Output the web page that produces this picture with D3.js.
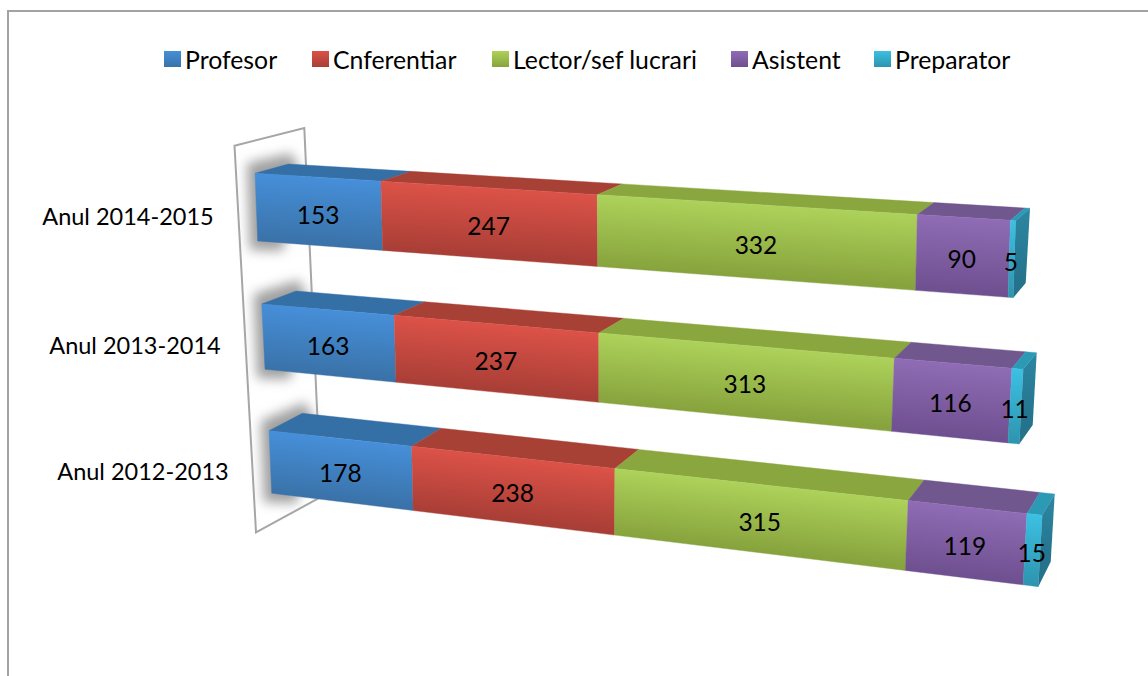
<!DOCTYPE html>
<html><head><meta charset="utf-8">
<script src="https://cdnjs.cloudflare.com/ajax/libs/d3/7.8.5/d3.min.js"></script>
<style>html,body{margin:0;padding:0;background:#fff}svg{display:block}text{font-family:Lato,"Open Sans",sans-serif;fill:#000}</style>
</head><body><svg id="c" width="1148" height="676"></svg>
<script>
// --- data ---
const categories = ["Anul 2014-2015","Anul 2013-2014","Anul 2012-2013"];
const seriesNames = ["Profesor","Cnferentiar","Lector/sef lucrari","Asistent","Preparator"];
const profesor   = [153,163,178];
const conferentiar = [247,237,238];
const lector     = [332,313,315];
const asistent   = [90,116,119];
const preparator = [5,11,15];
const seriesValues = [profesor,conferentiar,lector,asistent,preparator];

// --- layout & style (not data) ---
const frontColors = [["#468FD9","#3A72A8"],["#DC5248","#A83E36"],["#ADD25A","#87A33D"],["#8F6CB5","#6E4F8F"],["#3CC0E2","#2D94AF"]];
const topColors = ["#346FA6","#A74035","#8AA63F","#70578E","#2C9AB5"];
const sideColors = ["#2C87A3","#25728C"];
// corners: front TL, TR, BR, BL; back TL, TR, BR
const frames = [
 {ftl:[255,173.3],ftr:[1015.7,220.7],fbr:[1013.3,297.7],fbl:[257.7,241],btl:[288.3,164],btr:[1030,208.3],bbr:[1025.7,283],label:[128,219]},
 {ftl:[261.7,304],ftr:[1023.3,369.3],fbr:[1019.3,444],fbl:[265,369.3],btl:[296,291],btr:[1036.7,352.7],bbr:[1032.7,425],label:[135,348]},
 {ftl:[269,430.7],ftr:[1042.3,515.3],fbr:[1038.3,586.7],fbl:[271.7,493.3],btl:[302.3,413.3],btr:[1054.7,494],bbr:[1050.7,561.7],label:[143,474]}
];
const wall = [[234.5,145.7],[304.3,128],[321,497],[256,532.3]];
const legendX = [164,312,492,731,874];
const foreshorten = 1.145;

const svg = d3.select("#c");
const defs = svg.append("defs");
defs.append("filter").attr("id","blur").attr("x","-50%").attr("y","-50%").attr("width","200%").attr("height","200%")
  .append("feGaussianBlur").attr("stdDeviation",6);
const poly = d3.line().curve(d3.curveLinearClosed);

// frame of the picture
svg.append("path").attr("d","M8,676V11H1148").attr("fill","none").attr("stroke","#a3a3a3").attr("stroke-width",2);
// wall
svg.append("path").attr("d",poly(wall)).attr("fill","#fff").attr("stroke","#a6a6a6").attr("stroke-width",2);

let gid=0;
function gradient(a,b,stops){
  const id="g"+(gid++);
  const g=defs.append("linearGradient").attr("id",id).attr("gradientUnits","userSpaceOnUse")
    .attr("x1",a[0]).attr("y1",a[1]).attr("x2",b[0]).attr("y2",b[1]);
  stops.forEach((c,i)=>g.append("stop").attr("offset",i/(stops.length-1)).attr("stop-color",c));
  return `url(#${id})`;
}
const lerp=(p,q)=>{const sx=d3.scaleLinear().domain([0,1]).range([p[0],q[0]]),sy=d3.scaleLinear().domain([0,1]).range([p[1],q[1]]);return t=>[sx(t),sy(t)];};

// bars, drawn from the scales
categories.forEach((cat,ci)=>{
  const f=frames[ci];
  const vals=seriesValues.map(s=>s[ci]);
  const total=d3.sum(vals);
  const u=d3.scaleLinear().domain([0,total]).range([0,1]);
  const persp=v=>{const t=u(v);return t/(t+(1-t)*foreshorten);};
  const fTop=lerp(f.ftl,f.ftr),fBot=lerp(f.fbl,f.fbr),bTop=lerp(f.btl,f.btr);

  // soft shadow behind the near end
  svg.append("path").attr("filter","url(#blur)").attr("fill","#a0a0a0").attr("d",poly([
    [f.btl[0]+3,f.btl[1]-11],[f.ftl[0]-8,f.ftl[1]-10],[f.fbl[0]-8,f.fbl[1]+9],[f.fbl[0]+25,f.fbl[1]+10],[f.btl[0]+12,f.btl[1]+8]
  ]));

  let cum=0;
  vals.forEach((v,si)=>{
    const s0=persp(cum),s1=persp(cum+v); cum+=v;
    const tl=fTop(s0),tr=fTop(s1),bl=fBot(s0),br=fBot(s1),ktl=bTop(s0),ktr=bTop(s1);
    // top face
    svg.append("path").attr("d",poly([tl,ktl,ktr,tr])).attr("fill",topColors[si])
      .attr("stroke",topColors[si]).attr("stroke-width",0.4);
    // front face: shading follows the tilted bar
    const dx=tr[0]-tl[0],dy=tr[1]-tl[1],len=Math.hypot(dx,dy),nx=-dy/len,ny=dx/len;
    const h=(bl[0]-tl[0])*nx+(bl[1]-tl[1])*ny;
    const fill=gradient(tl,[tl[0]+nx*h,tl[1]+ny*h],frontColors[si]);
    svg.append("path").attr("d",poly([tl,tr,br,bl])).attr("fill",fill)
      .attr("stroke",fill).attr("stroke-width",0.4);
  });
  // end cap
  svg.append("path").attr("d",poly([f.ftr,f.btr,f.bbr,f.fbr]))
    .attr("fill",gradient(f.btr,f.bbr,sideColors));

  // value labels
  cum=0;
  vals.forEach(v=>{
    const s0=persp(cum),s1=persp(cum+v); cum+=v;
    const pts=[fTop(s0),fTop(s1),fBot(s1),fBot(s0)];
    svg.append("text").attr("x",d3.mean(pts,p=>p[0])-1).attr("y",d3.mean(pts,p=>p[1])+6)
      .attr("text-anchor","middle").attr("dominant-baseline","middle").attr("font-size",24.5).text(v);
  });
  // category label
  svg.append("text").attr("x",f.label[0]).attr("y",f.label[1]).attr("text-anchor","middle")
    .attr("dominant-baseline","middle").attr("font-size",23.5).text(cat);
});

// legend
seriesNames.forEach((n,i)=>{
  svg.append("rect").attr("x",legendX[i]).attr("y",51).attr("width",17).attr("height",16)
    .attr("fill",`url(#lg${i})`);
  const g=defs.append("linearGradient").attr("id","lg"+i).attr("x1",0).attr("y1",0).attr("x2",0).attr("y2",1);
  frontColors[i].forEach((c,k)=>g.append("stop").attr("offset",k).attr("stop-color",c));
  svg.append("text").attr("x",legendX[i]+21).attr("y",63).attr("dominant-baseline","middle").attr("font-size",24.8).text(n);
});
</script></body></html>
